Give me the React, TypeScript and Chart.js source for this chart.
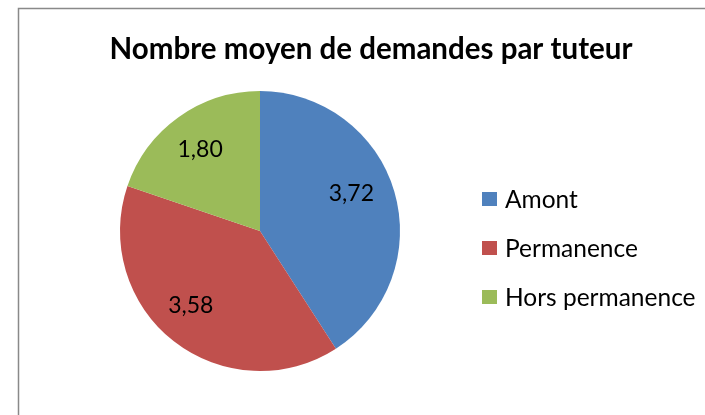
import React, { useEffect, useRef } from "react";
import { Chart, registerables } from "chart.js";

Chart.register(...registerables);

const title = "Nombre moyen de demandes par tuteur";
const categories = ["Amont", "Permanence", "Hors permanence"];
const values = [3.72, 3.58, 1.8];
const valueLabels = ["3,72", "3,58", "1,80"];
const colors = ["#4F81BD", "#C0504D", "#9BBB59"];

const FONT = "Lato, 'Open Sans', sans-serif";

const decorPlugin = {
  id: "decor",
  beforeDraw(chart: any) {
    const ctx = chart.ctx;
    ctx.save();
    ctx.fillStyle = "#ffffff";
    ctx.fillRect(0, 0, chart.width, chart.height);
    ctx.strokeStyle = "#898989";
    ctx.lineWidth = 1.5;
    ctx.strokeRect(18.5, 8.5, chart.width + 20, chart.height + 20);
    ctx.restore();
  },
  afterDraw(chart: any) {
    const ctx = chart.ctx;
    ctx.save();
    // title
    ctx.fillStyle = "#000000";
    ctx.font = `bold 29.5px ${FONT}`;
    ctx.textAlign = "center";
    ctx.textBaseline = "alphabetic";
    ctx.fillText(title, 371, 59);

    // data labels (slight nudges to mimic Excel's placement)
    const nudges = [
      [-4, -9],
      [-8, -4],
      [-2, -1],
    ];
    const meta = chart.getDatasetMeta(0);
    ctx.font = `23px ${FONT}`;
    ctx.textBaseline = "middle";
    meta.data.forEach((arc: any, i: number) => {
      const mid = (arc.startAngle + arc.endAngle) / 2;
      const r = arc.outerRadius * 0.71;
      const x = arc.x + Math.cos(mid) * r + nudges[i][0];
      const y = arc.y + Math.sin(mid) * r + nudges[i][1];
      ctx.fillText(valueLabels[i], x, y);
    });

    // legend
    ctx.font = `24.5px ${FONT}`;
    ctx.textAlign = "left";
    categories.forEach((c, i) => {
      const cy = 199 + i * 49;
      ctx.fillStyle = colors[i];
      ctx.fillRect(482, cy - 7, 15, 14);
      ctx.fillStyle = "#000000";
      ctx.fillText(c, 505, cy + 1);
    });
    ctx.restore();
  },
};

export default function App() {
  const ref = useRef<HTMLCanvasElement | null>(null);
  useEffect(() => {
    if (!ref.current) return;
    const chart = new Chart(ref.current, {
      type: "pie",
      data: {
        labels: categories,
        datasets: [
          {
            data: values,
            backgroundColor: colors,
            borderWidth: 0,
          },
        ],
      },
      options: {
        responsive: false,
        animation: false,
        layout: { padding: { left: 120, right: 305, top: 91, bottom: 44 } },
        plugins: {
          legend: { display: false },
          title: { display: false },
          tooltip: { enabled: false },
        },
      },
      plugins: [decorPlugin],
    });
    return () => chart.destroy();
  }, []);
  return (
    <div style={{ position: "absolute", left: 0, top: 0, width: 705, height: 415 }}>
      <canvas ref={ref} width={705} height={415} />
    </div>
  );
}
